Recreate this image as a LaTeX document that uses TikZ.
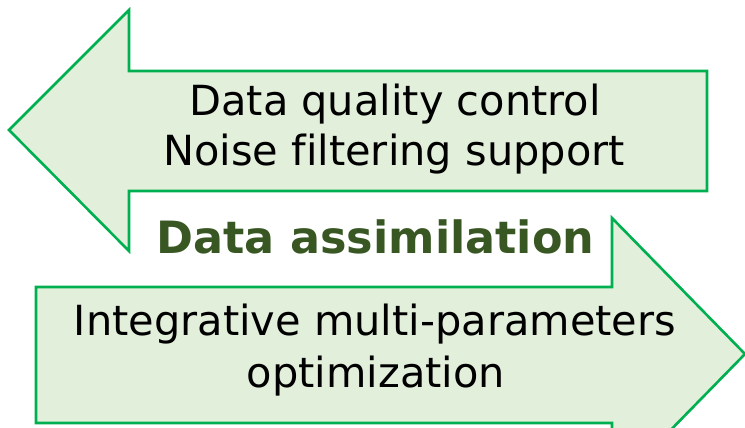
\documentclass[tikz,border=0pt]{standalone}
\usepackage{fontspec}
\setmainfont{DejaVu Sans}[Ligatures={NoCommon}]
\definecolor{arrowline}{HTML}{00B050}
\definecolor{arrowfill}{HTML}{E2EFDA}
\definecolor{titlegreen}{HTML}{385723}
\begin{document}
\begin{tikzpicture}[x=1pt,y=-1pt,
 arrowshape/.style={draw=arrowline, fill=arrowfill, line width=2.6pt, line join=miter},
 bodytext/.style={inner sep=0pt, anchor=base, font=\fontsize{41.5}{50}\selectfont, text=black},
 titletext/.style={inner sep=0pt, anchor=base, font=\fontsize{44.5}{54}\selectfont\bfseries, text=titlegreen}]
\useasboundingbox (0,0) rectangle (745,428);
\clip (0,0) rectangle (745,428);
% left-pointing arrow
\draw[arrowshape] (9,130) -- (129,10) -- (129,71) -- (707,71) -- (707,191) -- (129,191) -- (129,251) -- cycle;
% right-pointing arrow
\draw[arrowshape] (36,287) -- (612,287) -- (612,218) -- (745,354) -- (612,490) -- (612,423) -- (36,423) -- cycle;
% texts
\node[bodytext] (q1) at (395,115) {Data quality control};
\node[bodytext] (q2) at (394,165) {Noise filtering support};
\node[titletext] (da) at (375.5,253) {Data assimilation};
\node[bodytext] (m1) at (375,335) {Integrative multi-parameters};
\node[bodytext] (m2) at (376,387) {optimization};
\end{tikzpicture}
\end{document}
